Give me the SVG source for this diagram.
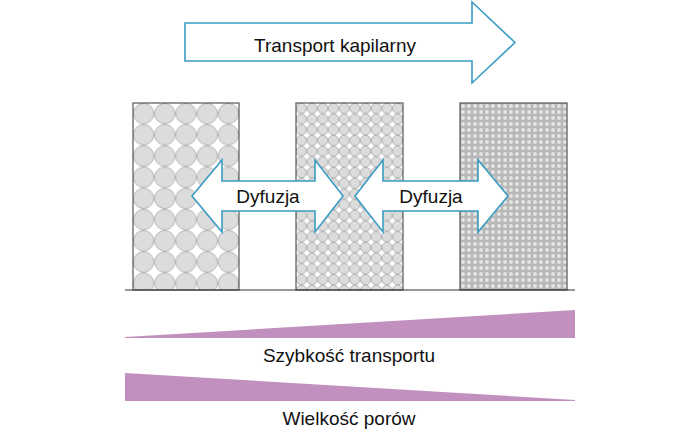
<svg xmlns="http://www.w3.org/2000/svg" width="700" height="442" viewBox="0 0 700 442">
<style>
.lbl{font-family:"Liberation Sans",Arial,sans-serif;font-size:19px;fill:#111;text-anchor:middle}
.arrow{fill:#fff;stroke:#3a9cc4;stroke-width:1.6;stroke-linejoin:miter}
.block{stroke:#555;stroke-width:1.2}
.wedge{fill:#c290bf}
</style>
<defs>
<pattern id="p1" patternUnits="userSpaceOnUse" x="133" y="103" width="21.2" height="21.2">
<rect width="21.2" height="21.2" fill="#fff"/>
<circle cx="10.6" cy="10.6" r="10.2" fill="#dcdcdc" stroke="#a8a8a8" stroke-width="0.8"/>
</pattern>
<pattern id="p2" patternUnits="userSpaceOnUse" x="296" y="103" width="10.7" height="10.7">
<rect width="10.7" height="10.7" fill="#fff"/>
<circle cx="5.35" cy="5.35" r="5.1" fill="#dcdcdc" stroke="#999" stroke-width="0.7"/>
</pattern>
<pattern id="p3" patternUnits="userSpaceOnUse" x="460" y="103" width="6" height="6">
<rect width="6" height="6" fill="#bbb"/>
<circle cx="3" cy="3" r="2.5" fill="#e4e4e4" stroke="#999" stroke-width="0.5"/>
</pattern>
</defs>

<g id="block-large">
<rect class="block" x="133" y="103" width="106" height="187" fill="url(#p1)"/>
</g>
<g id="block-medium">
<rect class="block" x="296" y="103" width="107" height="187" fill="url(#p2)"/>
</g>
<g id="block-small">
<rect class="block" x="460" y="103" width="107" height="187" fill="url(#p3)"/>
</g>
<g id="baseline">
<line x1="125" y1="290" x2="575" y2="290" stroke="#333" stroke-width="1.2"/>
</g>

<g id="connectors">
<g id="transport-arrow">
<polygon class="arrow" points="185,23 472,23 472,2 515,42.5 472,83 472,61 185,61"/>
<text class="lbl" x="335" y="52">Transport kapilarny</text>
</g>
<g id="diffusion-1">
<polygon class="arrow" points="192,196 222,160 222,181 315,181 315,160 343,196 315,232 315,211 222,211 222,232"/>
<text class="lbl" x="268" y="203">Dyfuzja</text>
</g>
<g id="diffusion-2">
<polygon class="arrow" points="355,196 383,160 383,181 478,181 478,160 508,196 478,232 478,211 383,211 383,232"/>
<text class="lbl" x="431" y="203">Dyfuzja</text>
</g>
</g>

<g id="speed">
<polygon class="wedge" points="125,337 575,310 575,338 125,338"/>
<text class="lbl" x="349" y="362">Szybkość transportu</text>
</g>
<g id="pore-size">
<polygon class="wedge" points="125,373 575,400 575,401 125,401"/>
<text class="lbl" x="349" y="425">Wielkość porów</text>
</g>
</svg>
